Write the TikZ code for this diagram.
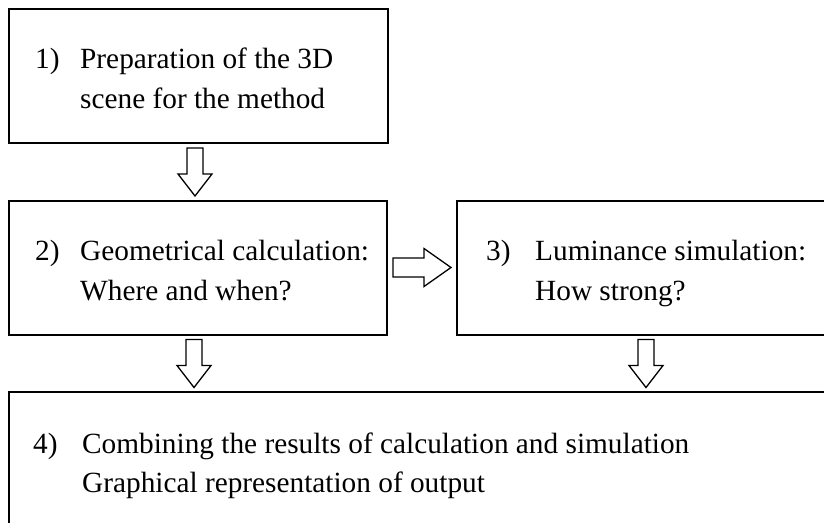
\documentclass[tikz,border=0pt]{standalone}
\usepackage{fontspec}
\setmainfont{Liberation Serif}
\usetikzlibrary{calc}
\tikzset{
  box/.style={draw=black, line width=2pt, fill=none},
  label/.style={anchor=base west, inner sep=0pt, font=\fontsize{29.3}{35}\selectfont},
  arrowline/.style={draw=black, line width=1.3pt, line join=miter, fill=white},
  downarrow/.pic={\path[arrowline] (-8,0) -- (-8,26) -- (-17,26) -- (0,48) -- (17,26) -- (8,26) -- (8,0) -- cycle;},
  rightarrow/.pic={\path[arrowline] (0,-9.5) -- (31,-9.5) -- (31,-19) -- (58,0) -- (31,19) -- (31,9.5) -- (0,9.5) -- cycle;}
}
\begin{document}
\begin{tikzpicture}[x=1pt,y=-1pt]
  \useasboundingbox (0,0) rectangle (824,522);
  \clip (0,0) rectangle (824,522);

  % the four process boxes (boxes 3 and 4 run past the page edge)
  \draw[box] (9,9) rectangle (388,143);
  \coordinate (b1s) at (198.5,143);
  \draw[box] (9,201) rectangle (387,335);
  \coordinate (b2s) at (198,335);
  \coordinate (b2e) at (387,268);
  \draw[box] (457,201) rectangle (835,335);
  \coordinate (b3s) at (646,335);
  \draw[box] (9,392) rectangle (835,530);

  % box texts
  \node[label] (t1n) at (35,68) {1)};
  \node[label] (t1a) at (80,68) {Preparation of the 3D};
  \node[label] (t1b) at (80,108) {scene for the method};

  \node[label] (t2n) at (35,260) {2)};
  \node[label] (t2a) at (80,260) {Geometrical calculation:};
  \node[label] (t2b) at (80,300) {Where and when?};

  \node[label] (t3n) at (486,260) {3)};
  \node[label] (t3a) at (535,260) {Luminance simulation:};
  \node[label] (t3b) at (535,300) {How strong?};

  \node[label] (t4n) at (33,453) {4)};
  \node[label] (t4a) at (82,453) {Combining the results of calculation and simulation};
  \node[label] (t4b) at (82,492) {Graphical representation of output};

  % hollow block arrows between the boxes
  \pic at ($(b1s)+(-3.5,5)$) {downarrow};
  \pic at ($(b2e)+(6,-0.5)$) {rightarrow};
  \pic at ($(b2s)+(-4,4.5)$) {downarrow};
  \pic at ($(b3s)+(0,4.5)$) {downarrow};
\end{tikzpicture}
\end{document}
